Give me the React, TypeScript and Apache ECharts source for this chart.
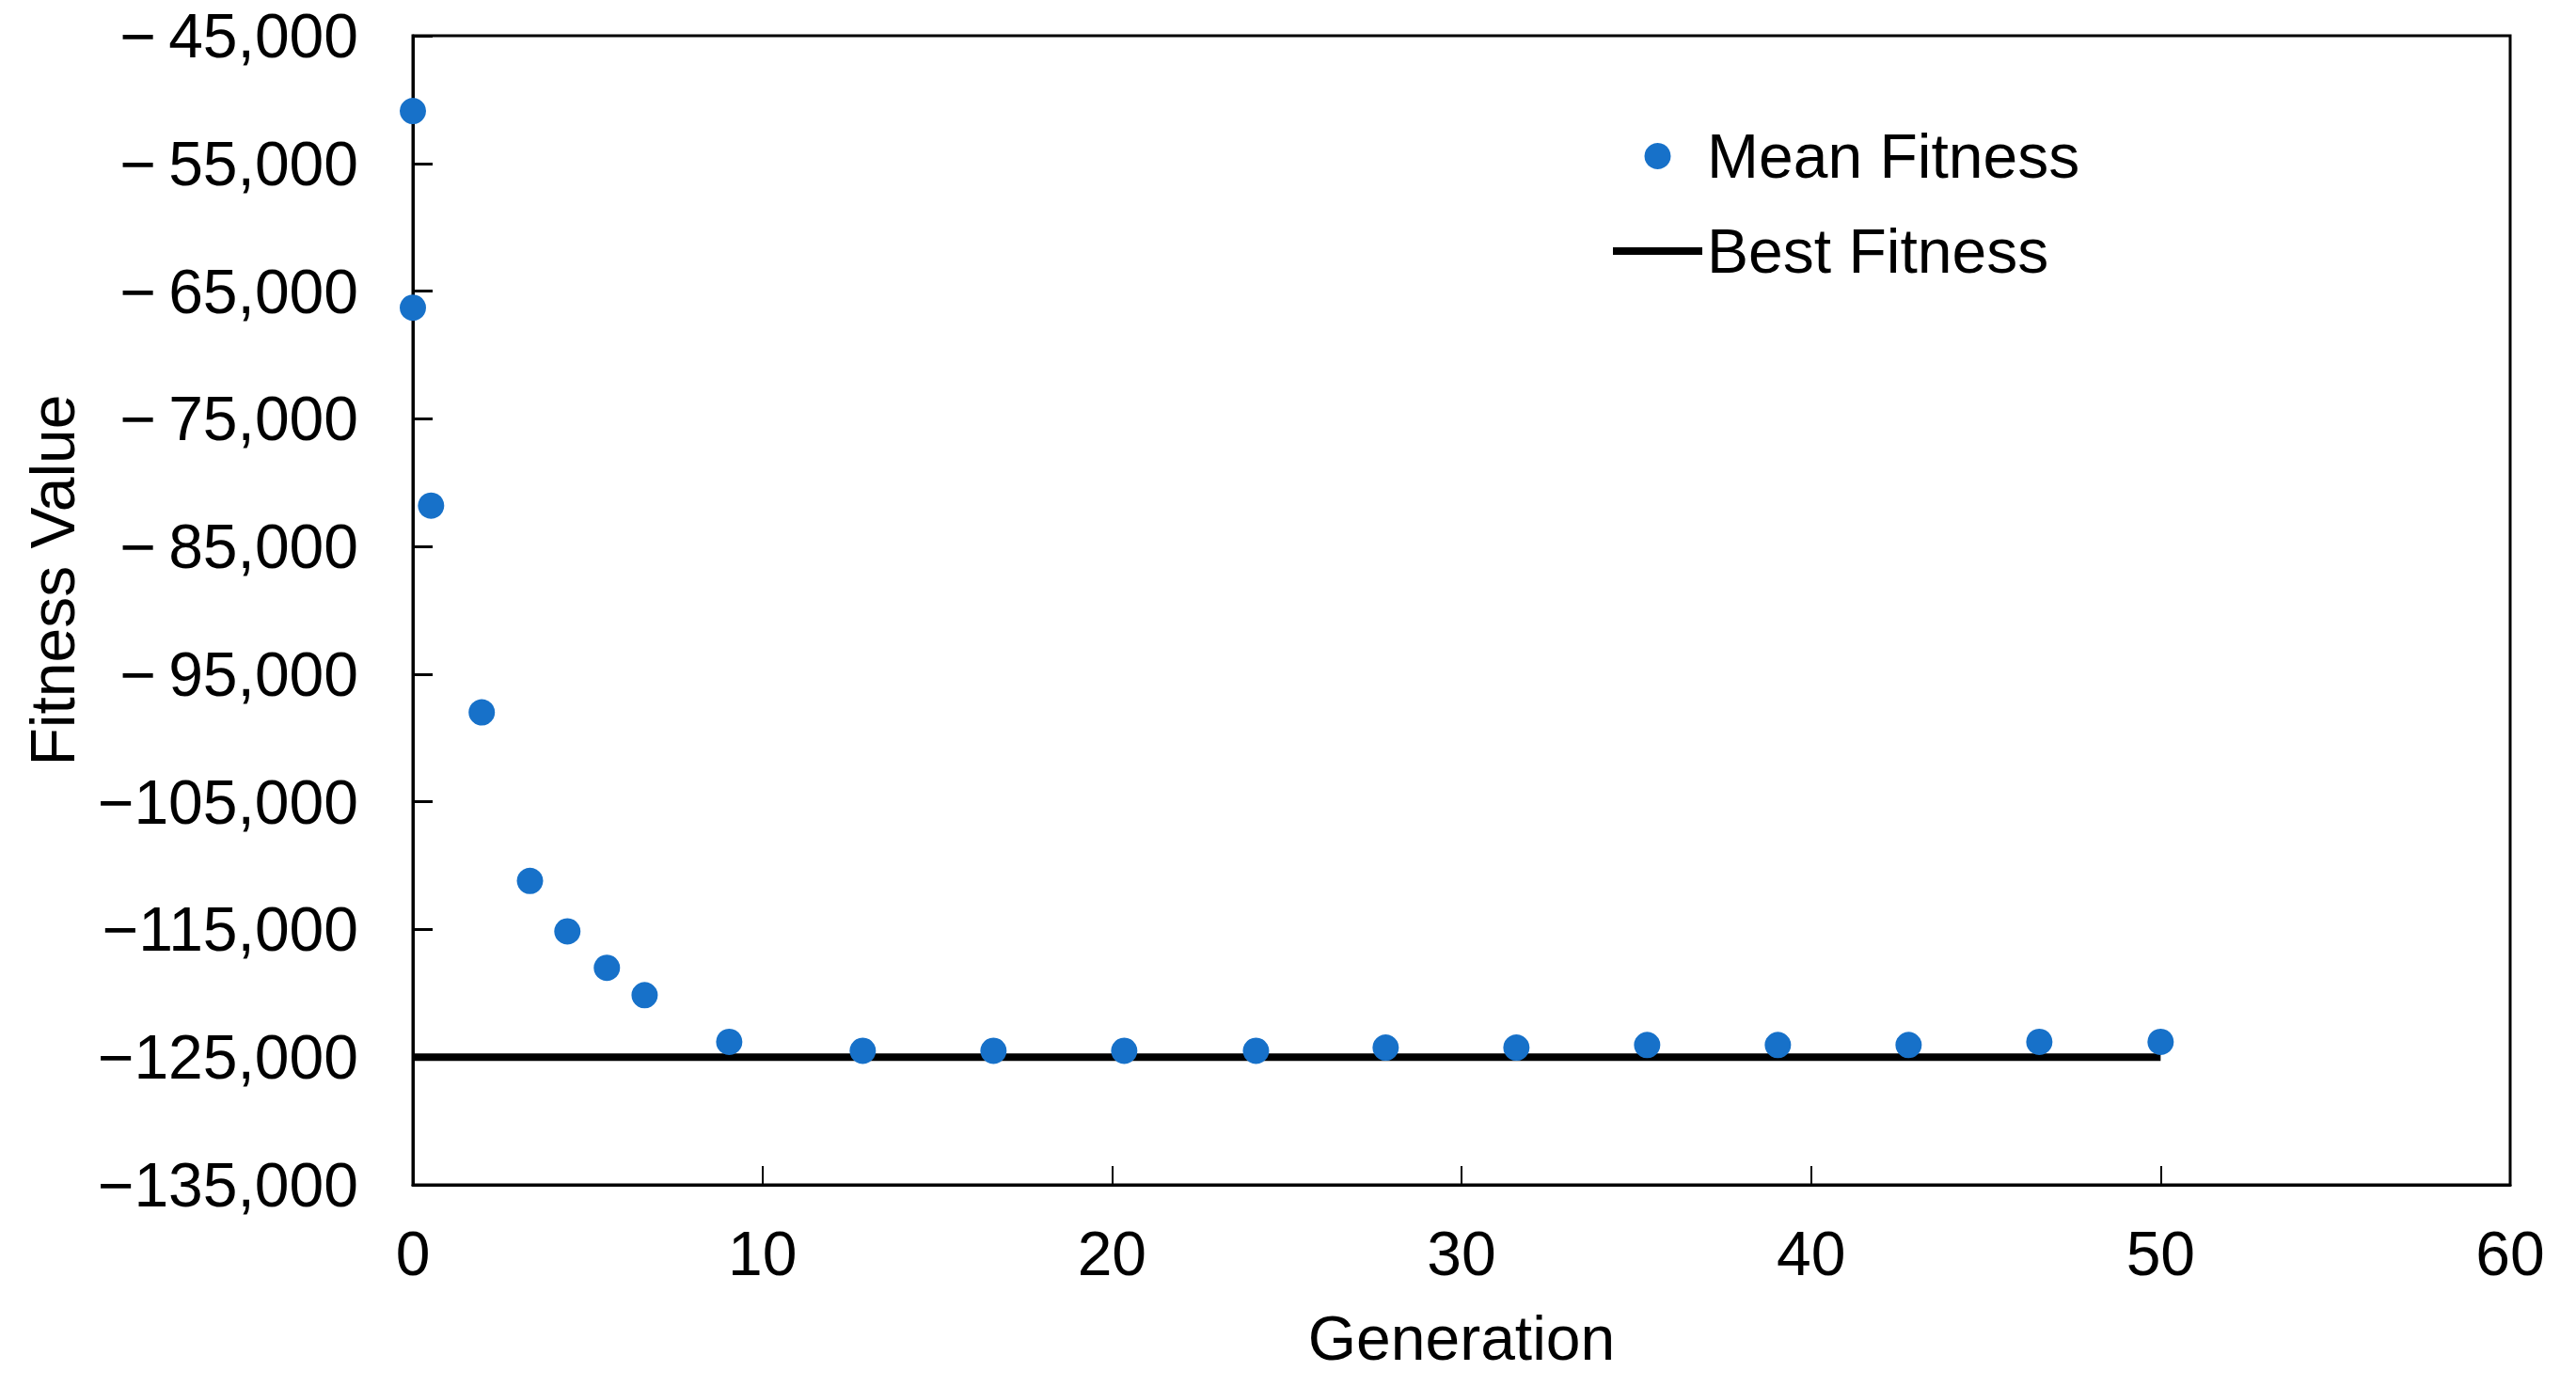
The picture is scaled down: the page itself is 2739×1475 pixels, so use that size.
import React, { useEffect, useRef } from "react";
import * as echarts from "echarts";

// Generation (x) and mean fitness (y)
const generations = [0, 0, 0.52, 1.97, 3.35, 4.42, 5.55, 6.63, 9.05, 12.87, 16.61, 20.35, 24.12, 27.83, 31.57, 35.31, 39.05, 42.79, 46.53, 50];
const meanFitness = [-50900, -66300, -81800, -98000, -111200, -115150, -118000, -120150, -123800, -124500, -124500, -124500, -124500, -124250, -124250, -124050, -124050, -124050, -123800, -123800];

const bestGenerations = [0, 50];
const bestFitness = [-125000, -125000];

const xTicks = { min: 0, max: 60, interval: 10 };
const yTicks = { min: -135000, max: -45000, interval: 10000 };

const FONT = "'Liberation Sans', Arial, sans-serif";
const FS = 66;

export default function App() {
  const ref = useRef<HTMLDivElement>(null);

  useEffect(() => {
    document.body.style.margin = "0";
    if (!ref.current) return;
    const chart = echarts.init(ref.current, undefined, { renderer: "svg" });
    const fmtY = (v: number) => {
      const a = Math.abs(v);
      return "\u2212" + (a < 100000 ? "\u2009" : "") + a.toLocaleString("en-US");
    };
    chart.setOption({
      animation: false,
      backgroundColor: "#ffffff",
      textStyle: { fontFamily: FONT },
      grid: {
        left: 439,
        top: 38,
        right: 70,
        bottom: 215,
        containLabel: false,
        show: true,
        borderColor: "#000",
        borderWidth: 3,
        backgroundColor: "transparent",
      },
      legend: {
        orient: "vertical",
        left: 1710,
        top: 128,
        itemWidth: 95,
        itemHeight: 28,
        itemGap: 35,
        data: [
          { name: "Mean Fitness", icon: "circle" },
          { name: "Best Fitness", icon: "path://M0 0H95V8H0Z" },
        ],
        textStyle: { fontSize: FS, color: "#000", fontFamily: FONT },
      },
      xAxis: {
        type: "value",
        min: xTicks.min,
        max: xTicks.max,
        interval: xTicks.interval,
        name: "Generation",
        nameLocation: "middle",
        nameGap: 130,
        nameTextStyle: { fontSize: FS, color: "#000", fontFamily: FONT },
        axisLine: { show: true, onZero: false, lineStyle: { color: "#000", width: 3 } },
        axisTick: { show: true, inside: true, length: 20, lineStyle: { color: "#000", width: 2 } },
        axisLabel: { margin: 40, fontSize: FS, color: "#000", fontFamily: FONT },
        splitLine: { show: false },
      },
      yAxis: {
        type: "value",
        min: yTicks.min,
        max: yTicks.max,
        interval: yTicks.interval,
        name: "Fitness Value",
        nameLocation: "middle",
        nameGap: 350,
        nameTextStyle: { fontSize: FS, color: "#000", fontFamily: FONT, padding: [0, 0, 0, 64] },
        axisLine: { show: true, onZero: false, lineStyle: { color: "#000", width: 3 } },
        axisTick: { show: true, inside: true, length: 21, lineStyle: { color: "#000", width: 3 } },
        axisLabel: { margin: 58, fontSize: FS, lineHeight: 60, color: "#000", fontFamily: FONT, formatter: fmtY },
        splitLine: { show: false },
      },
      series: [
        {
          name: "Best Fitness",
          type: "line",
          data: bestGenerations.map((g, i) => [g, bestFitness[i]]),
          symbol: "none",
          lineStyle: { color: "#000", width: 8 },
          itemStyle: { color: "#000" },
          z: 2,
        },
        {
          name: "Mean Fitness",
          type: "scatter",
          data: generations.map((g, i) => [g, meanFitness[i]]),
          symbol: "circle",
          symbolSize: 28,
          clip: false,
          itemStyle: { color: "#1771C9", opacity: 1 },
          z: 3,
        },
      ],
    });
    return () => chart.dispose();
  }, []);

  return <div ref={ref} style={{ width: 2739, height: 1475 }} />;
}
